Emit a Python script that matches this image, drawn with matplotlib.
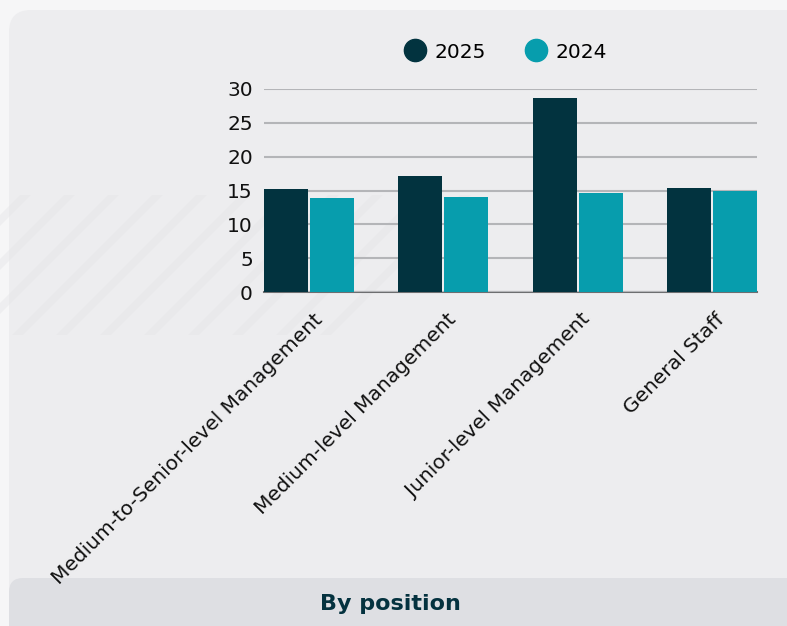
import matplotlib
matplotlib.use("Agg")
import matplotlib.pyplot as plt
import numpy as np
from matplotlib.patches import FancyBboxPatch, Polygon
from matplotlib.lines import Line2D

categories = ["Medium-to-Senior-level Management", "Medium-level Management",
              "Junior-level Management", "General Staff"]
values_2025 = [15.2, 17.2, 28.7, 15.3]
values_2024 = [13.9, 14.0, 14.7, 15.0]
series_names = ["2025", "2024"]
yticks = [0, 5, 10, 15, 20, 25, 30]

c2025 = "#02333f"
c2024 = "#079dad"

plt.rcParams['font.family'] = ['DejaVu Sans']

W, H = 787, 626
fig = plt.figure(figsize=(W/100, H/100), dpi=100)
fig.patch.set_facecolor("#f6f6f7")

# background card
bg = fig.add_axes([0, 0, 1, 1], zorder=-10)
bg.set_xlim(0, W); bg.set_ylim(H, 0); bg.axis("off")
card = FancyBboxPatch((9, 10), W + 40, H, boxstyle="round,pad=0,rounding_size=22",
                      facecolor="#ededef", edgecolor="none")
bg.add_patch(card)
# faint diagonal stripes
for x0 in range(-120, 340, 44):
    poly = Polygon([(x0, 335), (x0 + 11, 335), (x0 + 11 + 140, 195), (x0 + 140, 195)],
                   closed=True, facecolor="#e3e4e7", edgecolor="none", alpha=0.4)
    bg.add_patch(poly)
# bottom title panel
panel = FancyBboxPatch((9, 578), W + 40, 80, boxstyle="round,pad=0,rounding_size=14",
                       facecolor="#dedfe3", edgecolor="none")
bg.add_patch(panel)
bg.text(390, 604, "By position", ha="center", va="center", fontsize=16,
        fontweight="bold", color="#04323f")

# main axes
left, right = 264 / W, 757 / W
bottom, top = 1 - 292 / H, 1 - 89 / H
ax = fig.add_axes([left, bottom, right - left, top - bottom])
ax.set_facecolor("none")

x = np.arange(len(categories))
bw = 44 / 134
gap = 2 / 134
ax.bar(x - bw / 2 - gap / 2, values_2025, width=bw, color=c2025, zorder=3, label=series_names[0])
ax.bar(x + bw / 2 + gap / 2, values_2024, width=bw, color=c2024, zorder=3, label=series_names[1])

ax.set_xlim(-bw - gap / 2 - 0.003, 3 + bw + gap / 2 + 0.003)
ax.set_ylim(0, 30)
ax.set_yticks(yticks)
ax.set_yticklabels([str(v) for v in yticks], fontsize=14.5, color="#111111")
ax.grid(axis="y", color="#b4b5b8", linewidth=1.5, zorder=0)
ax.tick_params(axis="y", length=0, pad=8)
ax.tick_params(axis="x", length=0, pad=13)
for s in ["top", "right", "left"]:
    ax.spines[s].set_visible(False)
ax.spines["bottom"].set_color("#6d6e70")
ax.spines["bottom"].set_linewidth(1.5)
ax.spines["bottom"].set_zorder(1)

ax.set_xticks(x + 0.025)
ax.set_xticklabels(categories, rotation=45, ha="right", rotation_mode="anchor",
                   fontsize=14.5, color="#111111")

handles = [Line2D([0], [0], marker="o", linestyle="none", markersize=16,
                  markerfacecolor=c, markeredgecolor=c) for c in (c2025, c2024)]
fig.legend(handles, series_names, loc="center", bbox_to_anchor=(501 / W, 1 - 52 / H),
           ncol=2, frameon=False, fontsize=14.5, handletextpad=-0.05, columnspacing=1.5)

fig.savefig("out.png", dpi=100, facecolor=fig.get_facecolor())
